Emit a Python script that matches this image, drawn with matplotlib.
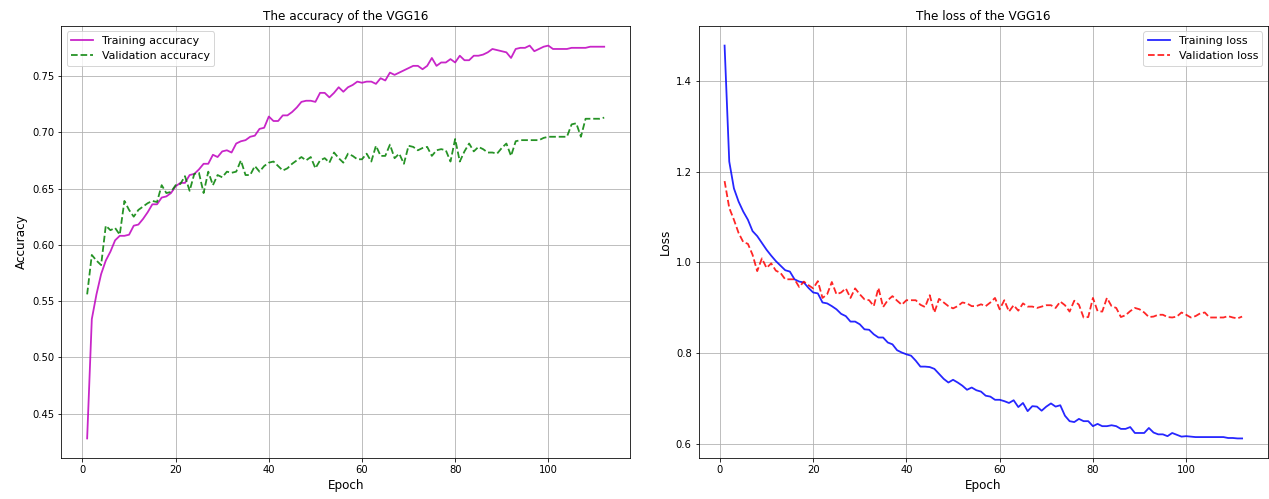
import numpy as np
import matplotlib
matplotlib.use('Agg')
import matplotlib.pyplot as plt

# Values (112 epochs)
epochs = np.arange(1, 113)

train_acc = [
    0.428, 0.534, 0.556, 0.574, 0.586, 0.594, 0.604, 0.608, 0.608, 0.609,
    0.617, 0.618, 0.623, 0.629, 0.636, 0.636, 0.642, 0.643, 0.646, 0.652,
    0.655, 0.655, 0.662, 0.663, 0.667, 0.672, 0.672, 0.680, 0.678, 0.683,
    0.684, 0.682, 0.690, 0.692, 0.693, 0.696, 0.697, 0.703, 0.704, 0.714,
    0.710, 0.710, 0.715, 0.715, 0.718, 0.722, 0.727, 0.728, 0.728, 0.727,
    0.735, 0.735, 0.731, 0.735, 0.740, 0.736, 0.740, 0.742, 0.745, 0.744,
    0.745, 0.745, 0.743, 0.748, 0.746, 0.753, 0.751, 0.753, 0.755, 0.757,
    0.759, 0.759, 0.756, 0.759, 0.766, 0.759, 0.762, 0.762, 0.765, 0.762,
    0.768, 0.764, 0.764, 0.768, 0.768, 0.769, 0.771, 0.774, 0.773, 0.772,
    0.771, 0.766, 0.774, 0.775, 0.775, 0.777, 0.772, 0.774, 0.776, 0.777,
    0.774, 0.774, 0.774, 0.774, 0.775, 0.775, 0.775, 0.775, 0.776, 0.776,
    0.776, 0.776,
]

val_acc = [
    0.556, 0.591, 0.586, 0.582, 0.617, 0.613, 0.615, 0.609, 0.639, 0.631,
    0.625, 0.631, 0.634, 0.637, 0.639, 0.638, 0.653, 0.646, 0.647, 0.653,
    0.654, 0.661, 0.648, 0.663, 0.664, 0.646, 0.665, 0.653, 0.662, 0.660,
    0.665, 0.664, 0.665, 0.675, 0.662, 0.662, 0.670, 0.665, 0.670, 0.673,
    0.674, 0.670, 0.666, 0.668, 0.672, 0.675, 0.678, 0.675, 0.678, 0.668,
    0.675, 0.677, 0.673, 0.682, 0.677, 0.673, 0.681, 0.679, 0.676, 0.676,
    0.681, 0.674, 0.688, 0.679, 0.679, 0.689, 0.677, 0.681, 0.672, 0.688,
    0.687, 0.684, 0.686, 0.687, 0.679, 0.684, 0.685, 0.684, 0.674, 0.694,
    0.674, 0.683, 0.690, 0.683, 0.687, 0.685, 0.682, 0.682, 0.681, 0.686,
    0.690, 0.679, 0.692, 0.693, 0.693, 0.693, 0.693, 0.693, 0.695, 0.696,
    0.696, 0.696, 0.696, 0.696, 0.707, 0.708, 0.696, 0.712, 0.712, 0.712,
    0.712, 0.713,
]

train_loss = [
    1.477, 1.222, 1.163, 1.134, 1.112, 1.094, 1.069, 1.058, 1.043, 1.028,
    1.015, 1.003, 0.993, 0.983, 0.980, 0.963, 0.958, 0.956, 0.944, 0.934,
    0.932, 0.912, 0.910, 0.904, 0.897, 0.887, 0.882, 0.870, 0.870, 0.864,
    0.853, 0.852, 0.842, 0.835, 0.835, 0.824, 0.820, 0.807, 0.802, 0.798,
    0.795, 0.784, 0.771, 0.771, 0.770, 0.766, 0.755, 0.744, 0.736, 0.742,
    0.736, 0.729, 0.720, 0.725, 0.719, 0.716, 0.707, 0.705, 0.698, 0.698,
    0.695, 0.691, 0.697, 0.682, 0.691, 0.673, 0.684, 0.683, 0.674, 0.683,
    0.690, 0.683, 0.686, 0.663, 0.651, 0.649, 0.656, 0.651, 0.651, 0.640,
    0.645, 0.640, 0.640, 0.642, 0.640, 0.634, 0.634, 0.638, 0.625, 0.625,
    0.625, 0.636, 0.626, 0.622, 0.622, 0.618, 0.625, 0.621, 0.617, 0.618,
    0.617, 0.616, 0.616, 0.616, 0.616, 0.616, 0.616, 0.616, 0.614, 0.614,
    0.613, 0.613,
]

val_loss = [
    1.179, 1.120, 1.094, 1.065, 1.045, 1.041, 1.017, 0.981, 1.009, 0.988,
    0.998, 0.982, 0.977, 0.963, 0.963, 0.963, 0.946, 0.958, 0.950, 0.943,
    0.959, 0.922, 0.930, 0.957, 0.930, 0.934, 0.943, 0.922, 0.943, 0.930,
    0.919, 0.917, 0.904, 0.944, 0.902, 0.917, 0.926, 0.916, 0.907, 0.917,
    0.917, 0.917, 0.907, 0.902, 0.928, 0.890, 0.920, 0.912, 0.904, 0.899,
    0.904, 0.912, 0.910, 0.904, 0.904, 0.908, 0.904, 0.912, 0.922, 0.897,
    0.917, 0.892, 0.906, 0.894, 0.910, 0.903, 0.903, 0.900, 0.903, 0.906,
    0.906, 0.900, 0.914, 0.906, 0.892, 0.916, 0.907, 0.879, 0.880, 0.922,
    0.893, 0.892, 0.922, 0.904, 0.900, 0.880, 0.884, 0.893, 0.900, 0.897,
    0.890, 0.880, 0.881, 0.885, 0.885, 0.880, 0.879, 0.881, 0.890, 0.885,
    0.879, 0.882, 0.888, 0.890, 0.879, 0.879, 0.879, 0.879, 0.882, 0.879,
    0.877, 0.881,
]

fig = plt.figure(figsize=(1269 / 72, 499 / 72), dpi=72)
ax1 = fig.add_axes([0.0483, 0.082, 0.4482, 0.866])
ax2 = fig.add_axes([0.5506, 0.082, 0.4486, 0.866])

# Accuracy
ax1.plot(epochs, train_acc, color='m', alpha=0.85, linewidth=1.8, label='Training accuracy')
ax1.plot(epochs, val_acc, color='g', alpha=0.85, linestyle='--', linewidth=1.8, label='Validation accuracy')
ax1.set_title('The accuracy of the VGG16', fontsize=12)
ax1.set_xlabel('Epoch', fontsize=12)
ax1.set_ylabel('Accuracy', fontsize=12)
ax1.grid(True)
ax1.legend(loc='upper left', fontsize=11)

# Loss
ax2.plot(epochs, train_loss, color='b', alpha=0.85, linewidth=1.8, label='Training loss')
ax2.plot(epochs, val_loss, color='r', alpha=0.85, linestyle='--', linewidth=1.8, label='Validation loss')
ax2.set_title('The loss of the VGG16', fontsize=12)
ax2.set_xlabel('Epoch', fontsize=12)
ax2.set_ylabel('Loss', fontsize=12)
ax2.grid(True)
ax2.legend(loc='upper right', fontsize=11)

for ax in (ax1, ax2):
    ax.tick_params(labelsize=10)

plt.savefig('out.png', dpi=72)
